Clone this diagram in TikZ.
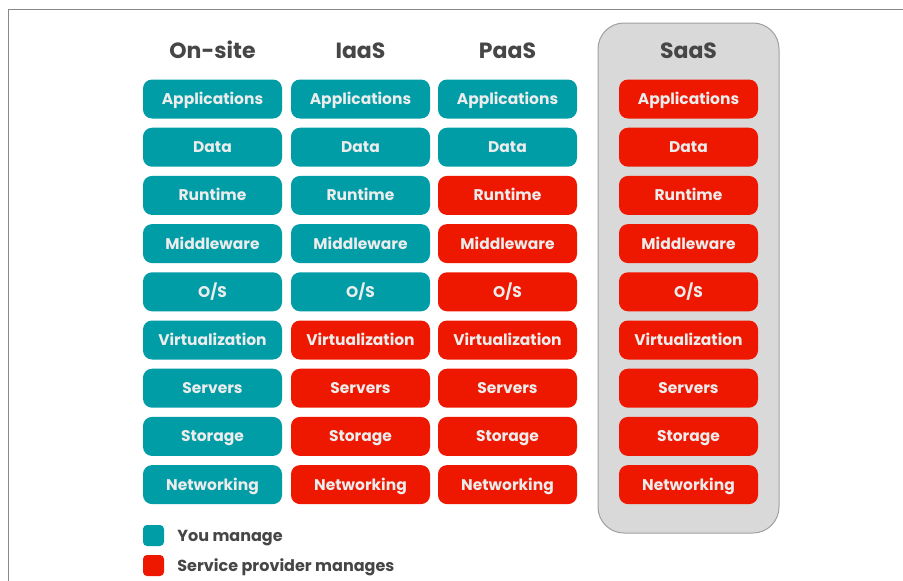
\documentclass[tikz,border=0pt]{standalone}
\usepackage{fontspec}
\setmainfont{Poppins}
\usetikzlibrary{positioning}
\definecolor{youteal}{RGB}{0,157,166}
\definecolor{provred}{RGB}{238,24,0}
\definecolor{headgray}{RGB}{70,70,70}
\definecolor{panelgray}{RGB}{217,217,217}
\definecolor{panelline}{RGB}{160,160,160}
\definecolor{boxtext}{RGB}{236,236,236}
\definecolor{framegray}{RGB}{136,136,136}

\begin{document}
\begin{tikzpicture}[x=1pt, y=-1pt,
  layer/.style={rectangle, rounded corners=9pt, minimum width=139pt, minimum height=39pt, inner sep=0pt, text height=11pt, text depth=0pt, text=boxtext, font=\fontsize{15.5}{18}\selectfont\bfseries},
  you/.style={layer, fill=youteal},
  prov/.style={layer, fill=provred},
  head/.style={text height=15.5pt, text depth=0pt, text=headgray, font=\fontsize{22}{26}\selectfont\bfseries},
  panel/.style={rectangle, rounded corners=26pt, draw=panelline, fill=panelgray, line width=1pt, minimum width=181pt, minimum height=510pt},
  key/.style={rectangle, rounded corners=4pt, minimum size=21pt, inner sep=0pt},
  keytext/.style={inner sep=0pt, text height=11.5pt, text depth=0pt, text=headgray, font=\fontsize{16}{19}\selectfont\bfseries}
]
  \useasboundingbox (0,0) rectangle (903,581);
  \draw[framegray, line width=1.5pt] (903,9.5) -- (8.5,9.5) -- (8.5,581);

  % SaaS panel behind its column
  \node[panel] (saaspanel) at (688.5,278) {};

  % column heads
  \node[head] (onsite) at (212.5,51) {On-site};
  \node[head] (iaas)   at (360.5,51) {IaaS};
  \node[head] (paas)   at (507.5,51) {PaaS};
  \node[head] (saas)   at (688.5,51) {SaaS};

  % stack layers
  \foreach \name/\iaasstyle/\paasstyle [count=\i] in {
      Applications/you/you, Data/you/you, Runtime/you/prov,
      Middleware/you/prov, {O/S}/you/prov, Virtualization/prov/prov,
      Servers/prov/prov, Storage/prov/prov, Networking/prov/prov} {
    \pgfmathsetmacro\rowy{99+48.2*(\i-1)}
    \node[you]         (onsite-\i) at (212.5,\rowy) {\name};
    \node[\iaasstyle]  (iaas-\i)   at (360.5,\rowy) {\name};
    \node[\paasstyle]  (paas-\i)   at (507.5,\rowy) {\name};
    \node[prov]        (saas-\i)   at (688.5,\rowy) {\name};
  }

  % legend
  \node[key, fill=youteal] (key-you)  at (153.5,535.5) {};
  \node[key, fill=provred] (key-prov) at (153.5,565.5) {};
  \node[keytext, right=13pt of key-you]  (label-you)  {You manage};
  \node[keytext, right=13pt of key-prov] (label-prov) {Service provider manages};
\end{tikzpicture}
\end{document}
